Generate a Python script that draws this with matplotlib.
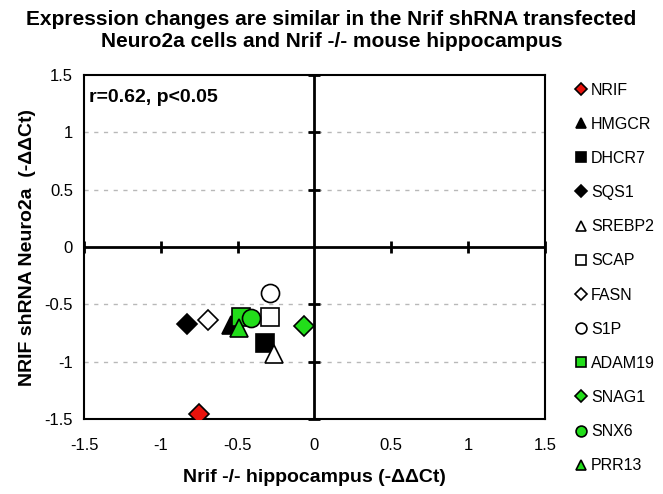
import matplotlib
matplotlib.use("Agg")
import matplotlib.pyplot as plt

plt.rcParams['font.family'] = ['Liberation Sans', 'DejaVu Sans']

genes = ['NRIF', 'HMGCR', 'DHCR7', 'SQS1', 'SREBP2', 'SCAP', 'FASN',
         'S1P', 'ADAM19', 'SNAG1', 'SNX6', 'PRR13']
hippo = [-0.75, -0.54, -0.32, -0.83, -0.26, -0.29, -0.69,
         -0.29, -0.48, -0.07, -0.41, -0.49]
neuro = [-1.46, -0.68, -0.84, -0.67, -0.93, -0.61, -0.64,
         -0.40, -0.61, -0.69, -0.62, -0.71]
markers = ['D', '^', 's', 'D', '^', 's', 'D', 'o', 's', 'D', 'o', '^']
colors = ['#e8120c', 'black', 'black', 'black', 'white', 'white', 'white',
          'white', '#22dd1a', '#22dd1a', '#22dd1a', '#22dd1a']
sizes = [10, 13, 13, 10, 13, 13, 10, 13, 13, 10, 13, 13]

ticks = [-1.5, -1, -0.5, 0, 0.5, 1, 1.5]
tick_labels = ['-1.5', '-1', '-0.5', '0', '0.5', '1', '1.5']

fig = plt.figure(figsize=(6.63, 4.94), dpi=100)
ax = fig.add_axes([0.1267, 0.1518, 0.695, 0.696])

for g, x, y, m, c, s in zip(genes, hippo, neuro, markers, colors, sizes):
    ax.plot(x, y, linestyle='none', marker=m, markersize=s,
            markerfacecolor=c, markeredgecolor='black', markeredgewidth=1.2,
            label=g, zorder=3)

for v in [-1, -0.5, 0.5, 1]:
    ax.axhline(v, color='#b8b8b8', linestyle=(0, (3, 4)), linewidth=1, zorder=1)
ax.axhline(0, color='black', linewidth=2, zorder=2)
ax.axvline(0, color='black', linewidth=2, zorder=2)

# tick marks on the crossing axes
inner = [t for t in ticks if t != 0]
ax.plot([0] * len(inner), inner, linestyle='none', marker='_', markersize=9,
        markeredgewidth=2, color='black', zorder=2, clip_on=False)
ax.plot(inner, [0] * len(inner), linestyle='none', marker='|', markersize=9,
        markeredgewidth=2, color='black', zorder=2, clip_on=False)

ax.set_xlim(-1.5, 1.5)
ax.set_ylim(-1.5, 1.5)
ax.set_xticks(ticks)
ax.set_xticklabels(tick_labels, fontsize=12)
ax.set_yticks(ticks)
ax.set_yticklabels(tick_labels, fontsize=12)
ax.tick_params(axis='x', length=0, pad=14)
ax.tick_params(axis='y', length=0, pad=8)
for sp in ax.spines.values():
    sp.set_linewidth(1.5)

ax.set_xlabel('Nrif -/- hippocampus (-ΔΔCt)', fontsize=14, fontweight='bold', labelpad=11)
ax.set_ylabel('NRIF shRNA Neuro2a  (-ΔΔCt)', fontsize=14, fontweight='bold', labelpad=6)
ax.text(0.01, 0.96, 'r=0.62, p<0.05', transform=ax.transAxes, fontsize=14,
        fontweight='bold', va='top', ha='left')

fig.text(0.5, 0.938, 'Expression changes are similar in the Nrif shRNA transfected\n'
         'Neuro2a cells and Nrif -/- mouse hippocampus',
         fontsize=15, fontweight='bold', ha='center', va='center', linespacing=1.2)

fig.legend(loc='upper left', bbox_to_anchor=(0.848, 0.862), frameon=False,
           fontsize=11.5, markerscale=0.6, labelspacing=1.2, handlelength=0.6,
           handletextpad=0.3)

fig.savefig('out.png', dpi=100)
